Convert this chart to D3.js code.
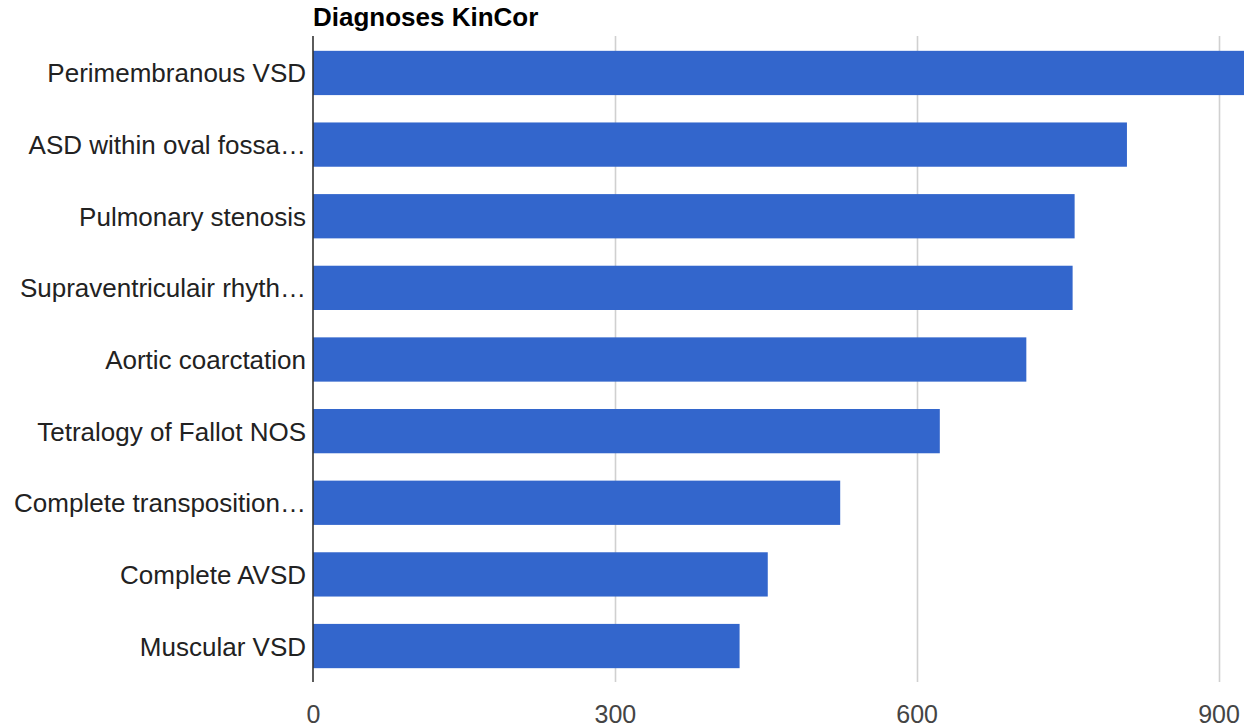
<!DOCTYPE html>
<html>
<head>
<meta charset="utf-8">
<script src="https://cdn.jsdelivr.net/npm/d3@7"></script>
<style>
  html, body { margin: 0; padding: 0; background: #fff; }
  svg { display: block; }
  text { font-family: "Liberation Sans", Arial, Helvetica, sans-serif; }
</style>
</head>
<body>
<svg id="chart" width="1244" height="728"></svg>
<script>
// Diagnosis counts, largest first
const categories = [
  "Perimembranous VSD",
  "ASD within oval fossa…",
  "Pulmonary stenosis",
  "Supraventriculair rhyth…",
  "Aortic coarctation",
  "Tetralogy of Fallot NOS",
  "Complete transposition…",
  "Complete AVSD",
  "Muscular VSD"
];
const counts = [940, 809, 757, 755, 709, 623, 524, 452, 424];
const tickValues = [0, 300, 600, 900];
const title = "Diagnoses KinCor";

const svg = d3.select("#chart");

const x = d3.scaleLinear().domain([0, 900]).range([313, 1218.5]);
const y = d3.scaleBand()
  .domain(categories)
  .range([36, 682])
  .paddingInner(0.382)
  .paddingOuter(0.2);

// Vertical gridlines
svg.append("g")
  .selectAll("line")
  .data(tickValues.filter(d => d !== 0))
  .join("line")
  .attr("x1", d => Math.round(x(d)) + 0.5)
  .attr("x2", d => Math.round(x(d)) + 0.5)
  .attr("y1", 36)
  .attr("y2", 682)
  .attr("stroke", "#d0d0d0")
  .attr("stroke-width", 1.6);

// Bars
svg.append("g")
  .selectAll("rect")
  .data(categories)
  .join("rect")
  .attr("x", x(0))
  .attr("y", d => y(d) + 0.5)
  .attr("width", (d, i) => x(counts[i]) - x(0))
  .attr("height", y.bandwidth())
  .attr("fill", "#3366cc");

// Baseline axis at zero
svg.append("line")
  .attr("x1", x(0))
  .attr("x2", x(0))
  .attr("y1", 36)
  .attr("y2", 682)
  .attr("stroke", "#333")
  .attr("stroke-width", 1.6);

// Category labels
svg.append("g")
  .selectAll("text")
  .data(categories)
  .join("text")
  .attr("x", x(0) - 7)
  .attr("y", d => y(d) + y.bandwidth() / 2 + 10)
  .attr("text-anchor", "end")
  .attr("font-size", "26px")
  .attr("fill", "#222")
  .text(d => d);

// Value axis labels
const xAxis = d3.axisBottom(x).tickValues(tickValues).tickSize(0).tickPadding(0);
const gx = svg.append("g").attr("transform", "translate(0,703)").call(xAxis);
gx.select(".domain").remove();
gx.selectAll("text")
  .attr("dy", 0)
  .attr("y", 19.5)
  .attr("font-size", "25px")
  .attr("font-family", "Liberation Sans, Arial, sans-serif")
  .attr("fill", "#444");

// Title
svg.append("text")
  .attr("x", 313)
  .attr("y", 26)
  .attr("font-size", "26px")
  .attr("font-weight", "bold")
  .attr("fill", "#000")
  .text(title);
</script>
</body>
</html>
